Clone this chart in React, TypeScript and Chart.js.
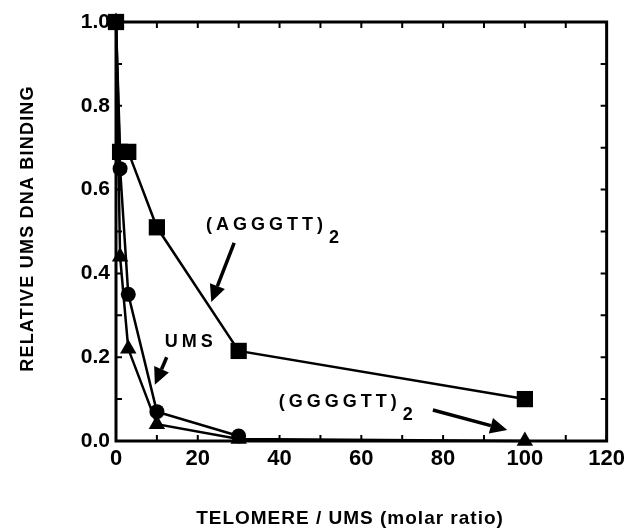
import React, { useEffect, useRef } from "react";
import { Chart, registerables } from "chart.js";

Chart.register(...registerables);

// Data (x = TELOMERE / UMS molar ratio, y = relative UMS DNA binding)
const agggttX = [0, 1, 3, 10, 30, 100];
const agggttY = [1.0, 0.69, 0.69, 0.51, 0.215, 0.1];
const umsX = [0, 1, 3, 10, 30];
const umsY = [1.0, 0.65, 0.35, 0.07, 0.012];
const ggggttX = [0, 1, 3, 10, 30, 100];
const ggggttY = [1.0, 0.44, 0.22, 0.04, 0.005, 0.0];

const xTickValues = [0, 20, 40, 60, 80, 100, 120];
const yTickValues = [0, 0.2, 0.4, 0.6, 0.8, 1.0];

const xTitle = "TELOMERE / UMS (molar ratio)";
const yTitle = "RELATIVE UMS DNA BINDING";

// Annotation labels (data coordinates)
const labelTexts = ["(AGGGTT)", "UMS", "(GGGGTT)"];
const labelSubs = ["2", "", "2"];
const labelX = [22, 11.9, 39.8];
const labelY = [0.515, 0.236, 0.093];
// Arrows: start (x,y) -> tip (x,y) in data coordinates
const arrowFromX = [28.9, 12.4, 77.5];
const arrowFromY = [0.473, 0.2, 0.074];
const arrowToX = [23.3, 9.5, 95.7];
const arrowToY = [0.332, 0.134, 0.026];

const FONT = '"Liberation Sans", Arial, Helvetica, sans-serif';

const toPts = (xs: number[], ys: number[]) => xs.map((x, i) => ({ x, y: ys[i] }));

const framePlugin = {
  id: "frame",
  beforeDatasetsDraw(chart: any) {
    const { ctx, chartArea: a, scales } = chart;
    const xs = scales.x;
    const ys = scales.y;
    ctx.save();
    ctx.strokeStyle = "#000";
    ctx.lineWidth = 3;
    ctx.strokeRect(a.left, a.top, a.right - a.left, a.bottom - a.top);
    ctx.lineWidth = 2;
    const tl = 6;
    for (let i = 0; i <= 12; i++) {
      const px = xs.getPixelForValue(i * 10);
      ctx.beginPath();
      ctx.moveTo(px, a.bottom);
      ctx.lineTo(px, a.bottom - tl);
      ctx.moveTo(px, a.top);
      ctx.lineTo(px, a.top + tl);
      ctx.stroke();
    }
    for (let i = 0; i <= 10; i++) {
      const py = ys.getPixelForValue(i / 10);
      ctx.beginPath();
      ctx.moveTo(a.left, py);
      ctx.lineTo(a.left + tl, py);
      ctx.moveTo(a.right, py);
      ctx.lineTo(a.right - tl, py);
      ctx.stroke();
    }
    ctx.restore();
  },
  afterDraw(chart: any) {
    const { ctx, chartArea: a, scales } = chart;
    const xs = scales.x;
    const ys = scales.y;
    ctx.save();
    ctx.fillStyle = "#000";
    ctx.strokeStyle = "#000";
    // Axis titles
    ctx.textAlign = "center";
    ctx.textBaseline = "middle";
    ctx.font = `bold 19px ${FONT}`;
    (ctx as any).letterSpacing = "1px";
    ctx.fillText(xTitle, a.left + 234, a.bottom + 78);
    ctx.font = `bold 18px ${FONT}`;
    (ctx as any).letterSpacing = "1.2px";
    ctx.save();
    ctx.translate(a.left - 88, (a.top + a.bottom) / 2 - 3);
    ctx.rotate(-Math.PI / 2);
    ctx.fillText(yTitle, 0, 0);
    ctx.restore();

    // Labels
    ctx.font = `bold 18px ${FONT}`;
    ctx.textAlign = "left";
    (ctx as any).letterSpacing = "4px";
    for (let i = 0; i < labelTexts.length; i++) {
      const px = xs.getPixelForValue(labelX[i]);
      const py = ys.getPixelForValue(labelY[i]);
      ctx.fillText(labelTexts[i], px, py);
      if (labelSubs[i]) {
        const w = ctx.measureText(labelTexts[i]).width;
        ctx.fillText(labelSubs[i], px + w + 2, py + 13);
      }
    }
    // Arrows
    for (let i = 0; i < arrowFromX.length; i++) {
      const x1 = xs.getPixelForValue(arrowFromX[i]);
      const y1 = ys.getPixelForValue(arrowFromY[i]);
      const x2 = xs.getPixelForValue(arrowToX[i]);
      const y2 = ys.getPixelForValue(arrowToY[i]);
      const ang = Math.atan2(y2 - y1, x2 - x1);
      const hl = 17;
      const hw = 8;
      const bx = x2 - hl * Math.cos(ang);
      const by = y2 - hl * Math.sin(ang);
      ctx.lineWidth = 3.5;
      ctx.beginPath();
      ctx.moveTo(x1, y1);
      ctx.lineTo(bx, by);
      ctx.stroke();
      ctx.beginPath();
      ctx.moveTo(x2, y2);
      ctx.lineTo(bx + hw * Math.sin(ang), by - hw * Math.cos(ang));
      ctx.lineTo(bx - hw * Math.sin(ang), by + hw * Math.cos(ang));
      ctx.closePath();
      ctx.fill();
    }
    ctx.restore();
  },
};

export default function App() {
  const ref = useRef<HTMLCanvasElement>(null);
  useEffect(() => {
    const common = {
      showLine: true,
      borderColor: "#000",
      backgroundColor: "#000",
      pointBackgroundColor: "#000",
      pointBorderColor: "#000",
      borderWidth: 2.5,
      pointBorderWidth: 0,
      clip: false as any,
    };
    const chart = new Chart(ref.current!, {
      type: "scatter",
      data: {
        datasets: [
          { ...common, label: "(GGGGTT)2", data: toPts(ggggttX, ggggttY), pointStyle: "triangle", pointRadius: 9.5 },
          { ...common, label: "UMS", data: toPts(umsX, umsY), pointStyle: "circle", pointRadius: 7.5 },
          { ...common, label: "(AGGGTT)2", data: toPts(agggttX, agggttY), pointStyle: "rect", pointRadius: 11.5 },
        ],
      },
      options: {
        animation: false,
        responsive: false,
        layout: { padding: { top: 22, right: 20, left: 0, bottom: 0 } },
        plugins: { legend: { display: false }, tooltip: { enabled: false } },
        scales: {
          x: {
            type: "linear",
            min: 0,
            max: 120,
            afterBuildTicks: (s: any) => {
              s.ticks = xTickValues.map((v) => ({ value: v }));
            },
            ticks: {
              color: "#000",
              font: { family: FONT, size: 22, weight: "bold" },
              padding: 5,
              maxRotation: 0,
              autoSkip: false,
              callback: (v: any) => String(v),
            },
            grid: { display: false, drawTicks: false },
            border: { display: false },
            afterFit: (s: any) => {
              s.height = 90;
            },
          },
          y: {
            type: "linear",
            min: 0,
            max: 1,
            afterBuildTicks: (s: any) => {
              s.ticks = yTickValues.map((v) => ({ value: v }));
            },
            ticks: {
              color: "#000",
              font: { family: FONT, size: 21, weight: "bold" },
              padding: 6,
              autoSkip: false,
              callback: (v: any) => Number(v).toFixed(1),
            },
            grid: { display: false, drawTicks: false },
            border: { display: false },
            afterFit: (s: any) => {
              s.width = 116;
            },
          },
        },
      } as any,
      plugins: [framePlugin],
    });
    return () => chart.destroy();
  }, []);
  return (
    <div style={{ position: "fixed", left: 0, top: 0, width: 630, height: 531, background: "#fff" }}>
      <canvas ref={ref} width={630} height={531} style={{ width: 630, height: 531, display: "block" }} />
    </div>
  );
}
